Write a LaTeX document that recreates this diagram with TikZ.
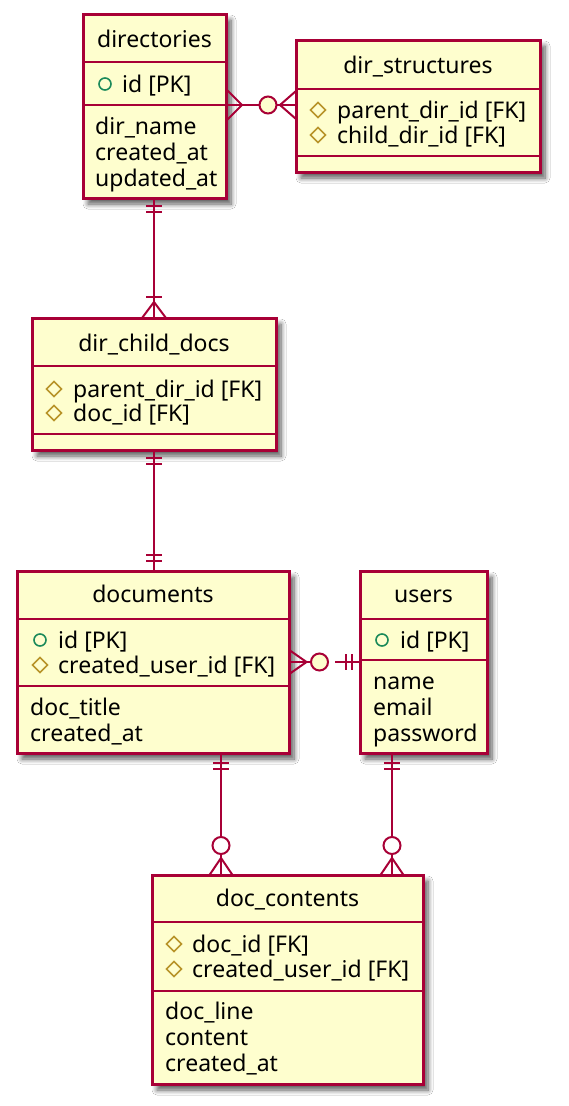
\documentclass[tikz,border=0pt]{standalone}
\usepackage{fontspec}
\setmainfont{Noto Sans}
\usetikzlibrary{shadows.blur}
\definecolor{bord}{HTML}{A80036}
\definecolor{fillc}{HTML}{FEFECE}
\definecolor{pkc}{HTML}{1B8A5A}
\definecolor{fkc}{HTML}{B8942A}
\tikzset{
  ent/.style={draw=bord, fill=fillc, line width=3pt, inner sep=0pt, outer sep=0pt, anchor=north west,
    blur shadow={shadow xshift=5pt, shadow yshift=-6pt, shadow blur steps=8, shadow blur radius=5pt, shadow opacity=65}},
  txt/.style={font=\fontsize{23}{27}\selectfont, inner sep=0pt, text height=21pt, text depth=4pt},
  ttl/.style={txt},
  row/.style={txt, anchor=west},
  sepl/.style={draw=bord, line width=2.2pt},
  rel/.style={draw=bord, line width=2pt},
  pk/.style={draw=pkc, line width=1.6pt},
  fk/.style={draw=fkc, line width=1.6pt},
}
\newcommand{\pkicon}[1]{\draw[pk] #1 circle (6pt);}
\newcommand{\fkicon}[1]{\draw[fk] #1 ++(0,-7.5) -- ++(7.5,7.5) -- ++(-7.5,7.5) -- ++(-7.5,-7.5) -- cycle;}
\begin{document}
\begin{tikzpicture}[x=1pt,y=-1pt]
\useasboundingbox[fill=white] (0,0) rectangle (568,1106);

% ---------- entities ----------
\node[ent, minimum width=143pt, minimum height=184pt] (directories) at (83,14) {};
\node[ent, minimum width=244pt, minimum height=132pt] (dirstructures) at (296,40) {};
\node[ent, minimum width=244pt, minimum height=132pt] (dirchilddocs) at (32,318) {};
\node[ent, minimum width=272pt, minimum height=182pt] (documents) at (17,571) {};
\node[ent, minimum width=127pt, minimum height=182pt] (users) at (360,571) {};
\node[ent, minimum width=271pt, minimum height=209pt] (doccontents) at (152,875) {};

% ---------- directories ----------
\node[ttl] (t1) at (154.5,39) {directories};
\draw[sepl] ([yshift=-48pt]directories.north west) -- ([yshift=-48pt]directories.north east);
\pkicon{(105,84)}
\node[row] (d1) at (122,84) {id [PK]};
\draw[sepl] ([yshift=-91pt]directories.north west) -- ([yshift=-91pt]directories.north east);
\node[row] (d2) at (95,126) {dir\_name};
\node[row] (d3) at (95,152) {created\_at};
\node[row] (d4) at (95,178) {updated\_at};

% ---------- dir_structures ----------
\node[ttl] (t2) at (418,65) {dir\_structures};
\draw[sepl] ([yshift=-49pt]dirstructures.north west) -- ([yshift=-49pt]dirstructures.north east);
\fkicon{(318,110)}
\node[row] (s1) at (337,110) {parent\_dir\_id [FK]};
\fkicon{(318,135)}
\node[row] (s2) at (337,135) {child\_dir\_id [FK]};
\draw[sepl] ([yshift=-116pt]dirstructures.north west) -- ([yshift=-116pt]dirstructures.north east);

% ---------- dir_child_docs ----------
\node[ttl] (t3) at (154,343) {dir\_child\_docs};
\draw[sepl] ([yshift=-48pt]dirchilddocs.north west) -- ([yshift=-48pt]dirchilddocs.north east);
\fkicon{(54,389)}
\node[row] (c1) at (73,389) {parent\_dir\_id [FK]};
\fkicon{(54,413)}
\node[row] (c2) at (73,413) {doc\_id [FK]};
\draw[sepl] ([yshift=-116pt]dirchilddocs.north west) -- ([yshift=-116pt]dirchilddocs.north east);

% ---------- documents ----------
\node[ttl] (t4) at (153,594) {documents};
\draw[sepl] ([yshift=-48pt]documents.north west) -- ([yshift=-48pt]documents.north east);
\pkicon{(40,640)}
\node[row] (m1) at (58,640) {id [PK]};
\fkicon{(40,665)}
\node[row] (m2) at (58,665) {created\_user\_id [FK]};
\draw[sepl] ([yshift=-115pt]documents.north west) -- ([yshift=-115pt]documents.north east);
\node[row] (m3) at (30,707) {doc\_title};
\node[row] (m4) at (30,733) {created\_at};

% ---------- users ----------
\node[ttl] (t5) at (423.5,594) {users};
\draw[sepl] ([yshift=-48pt]users.north west) -- ([yshift=-48pt]users.north east);
\pkicon{(382,640)}
\node[row] (u1) at (400,640) {id [PK]};
\draw[sepl] ([yshift=-89pt]users.north west) -- ([yshift=-89pt]users.north east);
\node[row] (u2) at (373,681) {name};
\node[row] (u3) at (373,707) {email};
\node[row] (u4) at (373,733) {password};

% ---------- doc_contents ----------
\node[ttl] (t6) at (287.5,898) {doc\_contents};
\draw[sepl] ([yshift=-47pt]doccontents.north west) -- ([yshift=-47pt]doccontents.north east);
\fkicon{(174,944)}
\node[row] (k1) at (192,944) {doc\_id [FK]};
\fkicon{(174,969)}
\node[row] (k2) at (192,969) {created\_user\_id [FK]};
\draw[sepl] ([yshift=-116pt]doccontents.north west) -- ([yshift=-116pt]doccontents.north east);
\node[row] (k3) at (165,1011) {doc\_line};
\node[row] (k4) at (165,1037) {content};
\node[row] (k5) at (165,1063) {created\_at};

% ---------- relations ----------
% directories }--o{ dir_structures
\draw[rel] ([yshift=-91pt]directories.north east) -- ([yshift=-65pt]dirstructures.north west);
\draw[rel] (226,89) -- (242,105) -- (226,121);
\draw[rel,fill=fillc] (268,105) circle (8.5pt);
\draw[rel] (296,91) -- (280,105) -- (296,119);

% directories ||--|{ dir_child_docs
\draw[rel] (directories.south -| 154,0) -- (dirchilddocs.north -| 154,0);
\draw[rel] (146,206) -- (162,206);
\draw[rel] (146,212) -- (162,212);
\draw[rel] (146,297) -- (162,297);
\draw[rel] (142,318) -- (154,302) -- (166,318);

% dir_child_docs ||--|| documents
\draw[rel] (dirchilddocs.south -| 154,0) -- (documents.north -| 154,0);
\draw[rel] (146,458) -- (162,458);
\draw[rel] (146,464) -- (162,464);
\draw[rel] (146,555) -- (162,555);
\draw[rel] (146,561) -- (162,561);

% documents }o--|| users
\draw[rel] (documents.east |- 0,662) -- (311,662);
\draw[rel] (290,650.5) -- (306.5,662) -- (290,673.5);
\draw[rel,fill=fillc] (319.5,662) circle (8.5pt);
\draw[rel] (335,662) -- (users.west |- 0,662);
\draw[rel] (346,654) -- (346,670);
\draw[rel] (352,654) -- (352,670);

% documents ||--o{ doc_contents
\draw[rel] (documents.south -| 221,0) -- (221,837);
\draw[rel] (221,854) -- (doccontents.north -| 221,0);
\draw[rel] (213,763) -- (229,763);
\draw[rel] (213,769) -- (229,769);
\draw[rel] (221,845.5) circle (8.5pt);
\draw[rel] (209.5,875) -- (221,858) -- (232.5,875);

% users ||--o{ doc_contents
\draw[rel] (users.south -| 392,0) -- (392,837);
\draw[rel] (392,854) -- (doccontents.north -| 392,0);
\draw[rel] (384,763) -- (400,763);
\draw[rel] (384,769) -- (400,769);
\draw[rel] (392,845.5) circle (8.5pt);
\draw[rel] (380.5,875) -- (392,858) -- (403.5,875);
\end{tikzpicture}
\end{document}
